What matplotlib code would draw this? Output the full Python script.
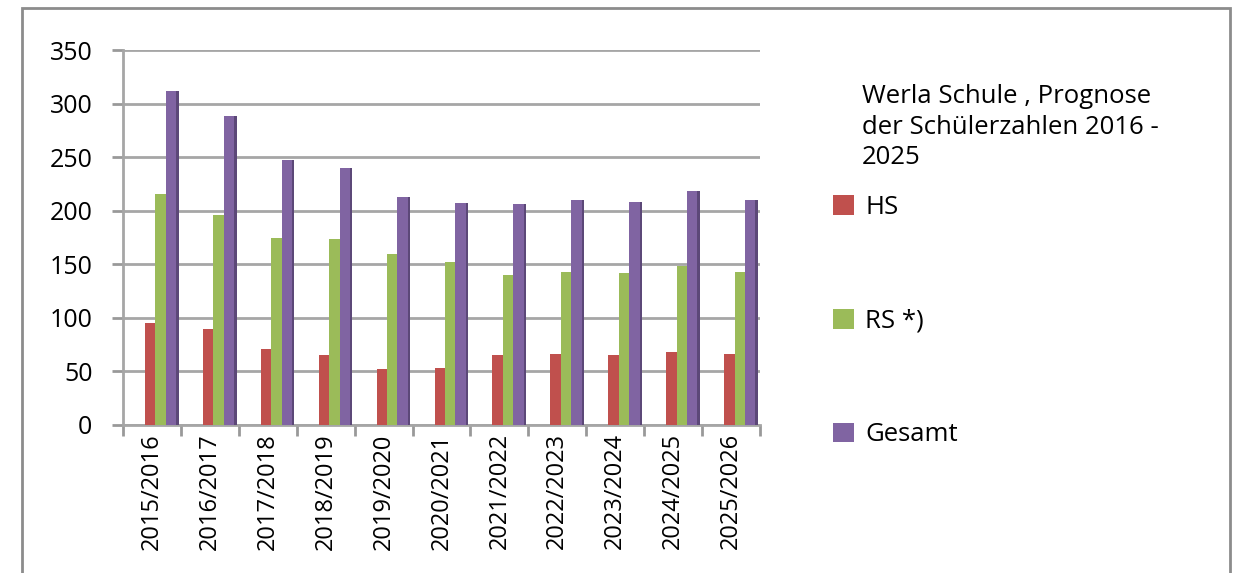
import numpy as np
import matplotlib.pyplot as plt
from matplotlib.patches import Rectangle

plt.rcParams['font.family'] = ['Open Sans', 'DejaVu Sans']

# Schuljahre und Schülerzahlen
years = ['2015/2016', '2016/2017', '2017/2018', '2018/2019', '2019/2020', '2020/2021',
         '2021/2022', '2022/2023', '2023/2024', '2024/2025', '2025/2026']
hs = [95, 90, 71, 65, 52, 53, 65, 66, 65, 68, 66]
rs = [216, 196, 175, 174, 160, 152, 140, 143, 142, 148, 143]
gesamt = [312, 288, 247, 240, 213, 207, 206, 210, 208, 218, 210]
series_names = ['HS', 'RS *)', 'Gesamt']
colors = ['#C0504D', '#9BBB59', '#8064A2']
side_colors = ['#8E3A38', '#71893F', '#5C4878']

fig = plt.figure(figsize=(12.37, 5.73), dpi=100)
ax = fig.add_axes([123 / 1237, 1 - 425 / 573, (760 - 123) / 1237, 375 / 573])

x = np.arange(len(years))
w = 0.18
offsets = [-0.03, 0.15, 0.33]
handles = []
for vals, off, c, sc, name in zip([hs, rs, gesamt], offsets, colors, side_colors, series_names):
    b = ax.bar(x + off, vals, width=w, color=c, label=name, zorder=3)
    # dunkle Seitenfläche für den 3D-Eindruck
    ax.bar(x + off + w / 2 + 0.02, vals, width=0.04, color=sc, zorder=3)
    handles.append(b)

ax.set_xlim(-0.5, len(years) - 0.5)
ax.set_ylim(0, 350)
ax.set_yticks(np.arange(0, 351, 50))
ax.set_xticks(x)
ax.set_xticklabels(years, rotation=90)
ax.set_xticks(np.arange(-0.5, len(years), 1), minor=True)
ax.tick_params(axis='x', which='major', length=0, labelsize=17, pad=6)
ax.tick_params(axis='x', which='minor', length=8, width=2, color='#999999', direction='out')
ax.tick_params(axis='y', length=8, width=2, color='#999999', labelsize=18, pad=14)

ax.yaxis.grid(True, color='#A6A6A6', linewidth=2, zorder=0)
for s in ['top', 'right']:
    ax.spines[s].set_visible(False)
for s in ['left', 'bottom']:
    ax.spines[s].set_color('#A6A6A6')
    ax.spines[s].set_linewidth(2)

fig.text(862 / 1237, 1 - 84 / 573, 'Werla Schule , Prognose\nder Schülerzahlen 2016 -\n2025',
         fontsize=18.5, va='top', ha='left', linespacing=1.3)

fig.legend(handles=handles, labels=series_names,
           loc='upper left', bbox_to_anchor=(833 / 1237, 1 - 195 / 573),
           frameon=False, fontsize=18.5, borderpad=0, borderaxespad=0,
           handlelength=0.8, handleheight=0.8, handletextpad=0.45,
           labelspacing=3.45)

# äußerer Rahmen
fig.patches.append(Rectangle((22 / 1237, -0.02), (1230 - 22) / 1237, 1.02 - 8 / 573,
                             transform=fig.transFigure, fill=False,
                             edgecolor='#8C8C8C', linewidth=2))

fig.savefig('out.png', dpi=100)
